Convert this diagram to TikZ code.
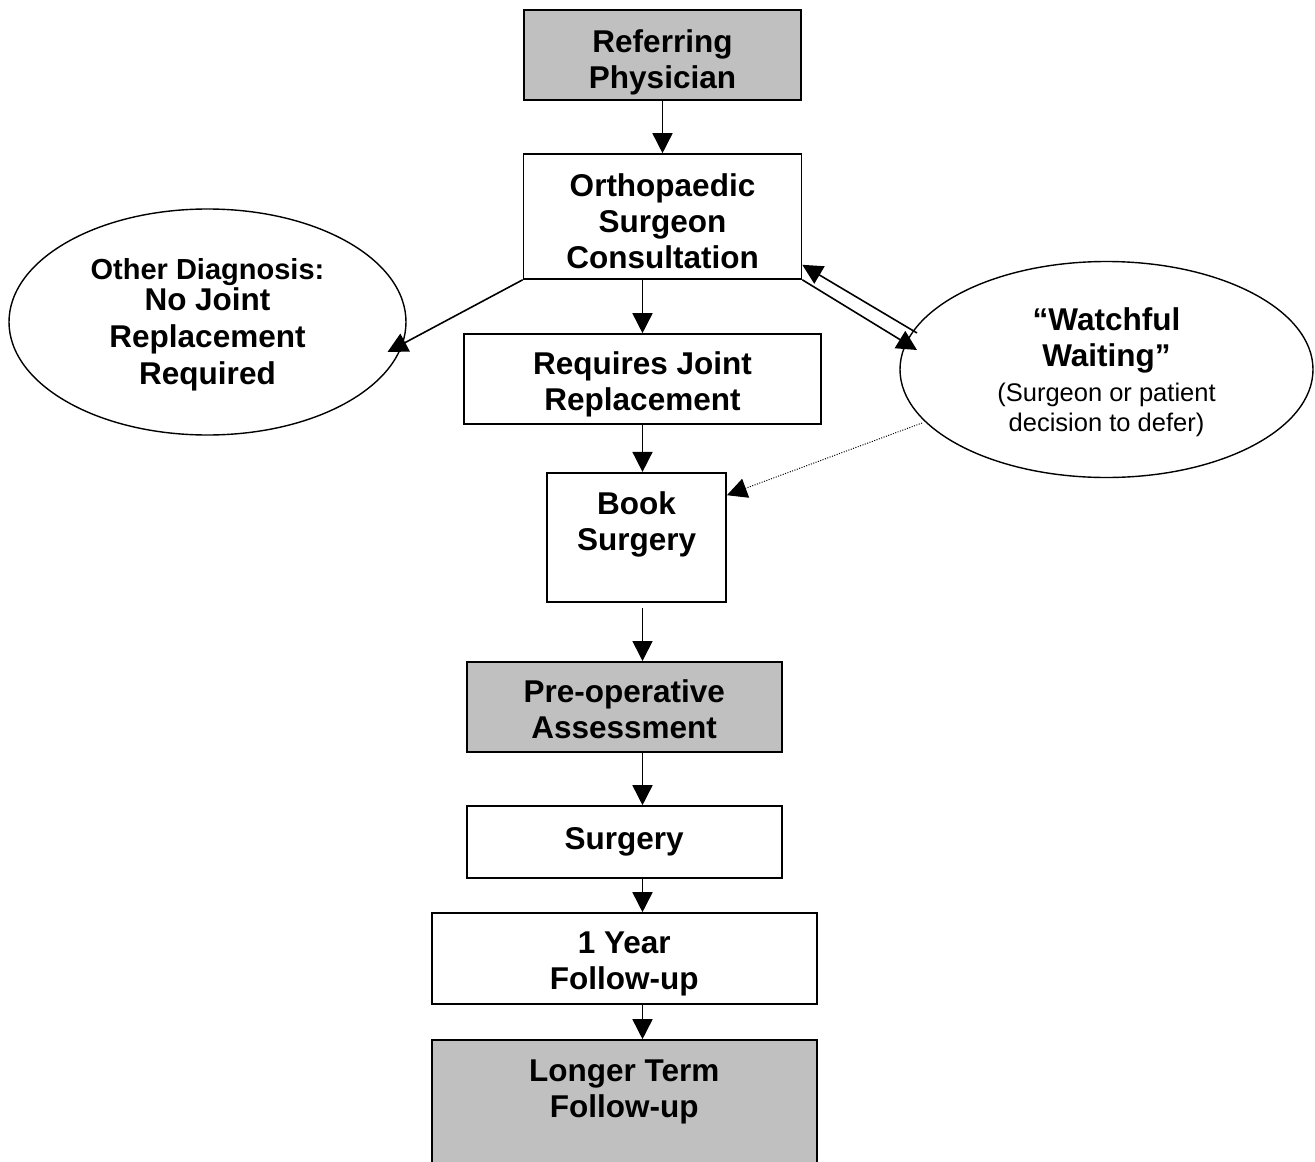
\documentclass[tikz,border=0pt]{standalone}
\usepackage{fontspec}
\setmainfont{Liberation Sans}
\usetikzlibrary{arrows.meta,shapes.geometric,calc}
\definecolor{boxgray}{HTML}{C0C0C0}
\begin{document}
\begin{tikzpicture}[x=1pt,y=-1pt,
  box/.style={draw,line width=1.6pt,rectangle,inner sep=0pt,align=center,
    font=\fontsize{31.5}{36}\selectfont\bfseries},
  gbox/.style={box,fill=boxgray},
  oval/.style={draw,line width=1.4pt,ellipse,inner sep=0pt,align=center,
    font=\fontsize{31.5}{36}\selectfont\bfseries},
  arr/.style={line width=1.6pt,-{Triangle[length=20pt,width=20pt]}},
  darr/.style={line width=1pt,dash pattern=on 1pt off 1.5pt,-{Triangle[length=20pt,width=20pt]}}]
\useasboundingbox (0,0) rectangle (1315,1162);
\clip (0,0) rectangle (1315,1162);

% boxes
\node[gbox,minimum width=277pt,minimum height=90pt] (ref) at (662.5,55) {\mbox{}\\[1pt]Referring\\Physician};
\node[box,minimum width=278pt,minimum height=125pt] (ortho) at (662.5,216.5) {\mbox{}\\[-4pt]Orthopaedic\\Surgeon\\Consultation};
\node[box,minimum width=357pt,minimum height=90pt] (req) at (642.5,379) {\mbox{}\\[-2pt]Requires Joint\\Replacement};
\node[box,minimum width=179pt,minimum height=129pt] (book) at (636.6,537.2) {Book\\Surgery\\[-4pt]\mbox{}};
\node[gbox,minimum width=315pt,minimum height=90pt] (pre) at (624.2,706.8) {\mbox{}\\[-9pt]Pre-operative\\Assessment};
\node[box,minimum width=315pt,minimum height=72pt] (surg) at (624.2,842) {Surgery};
\node[box,minimum width=385pt,minimum height=91pt] (year) at (624.2,958.5) {\mbox{}\\[-3pt]1 Year\\Follow-up};
\node[gbox,minimum width=385pt,minimum height=136pt] (ltf) at (624.2,1108) {Longer Term\\Follow-up\\[3pt]\mbox{}};

% ellipses
\node[oval,minimum width=397pt,minimum height=226pt] (other) at (207.5,322)
  {\mbox{}\\[-9pt]{\fontsize{29}{33}\selectfont Other Diagnosis:}\\[-5pt]No Joint\\[1pt]Replacement\\[1pt]Required};
\node[oval,minimum width=413pt,minimum height=216pt] (wait) at (1106.5,369.5)
  {\mbox{}\\[-7pt]\char"201C Watchful\\Waiting\char"201D\\[-1pt]{\fontsize{25.5}{30}\selectfont\mdseries (Surgeon or patient}\\[-6pt]{\fontsize{25.5}{30}\selectfont\mdseries decision to defer)}};

% connectors
\draw[arr] (ref) -- (ortho);
\draw[arr] (ortho.south west) -- ($(other.center)+(180,30)$);
\draw[arr] (ortho.south -| req.north) -- (req.north);
\draw[arr] (req) -- (req.south |- book.north);
\draw[arr] ([yshift=-5pt]book.south -| req.south) -- (pre.north -| req.south);
\draw[arr] (pre.south -| req.south) -- (surg.north -| req.south);
\draw[arr] (surg.south -| req.south) -- (year.north -| req.south);
\draw[arr] (year.south -| req.south) -- (ltf.north -| req.south);
\draw[arr] (ortho.south east) -- ($(wait.center)+(-189.5,-19.5)$);
\draw[arr] ($(wait.center)+(-189.5,-36.5)$) -- ([yshift=15pt]ortho.south east);
\draw[darr] ($(wait.center)+(-184.5,53.5)$) -- ([yshift=42pt]book.east);
\end{tikzpicture}
\end{document}
